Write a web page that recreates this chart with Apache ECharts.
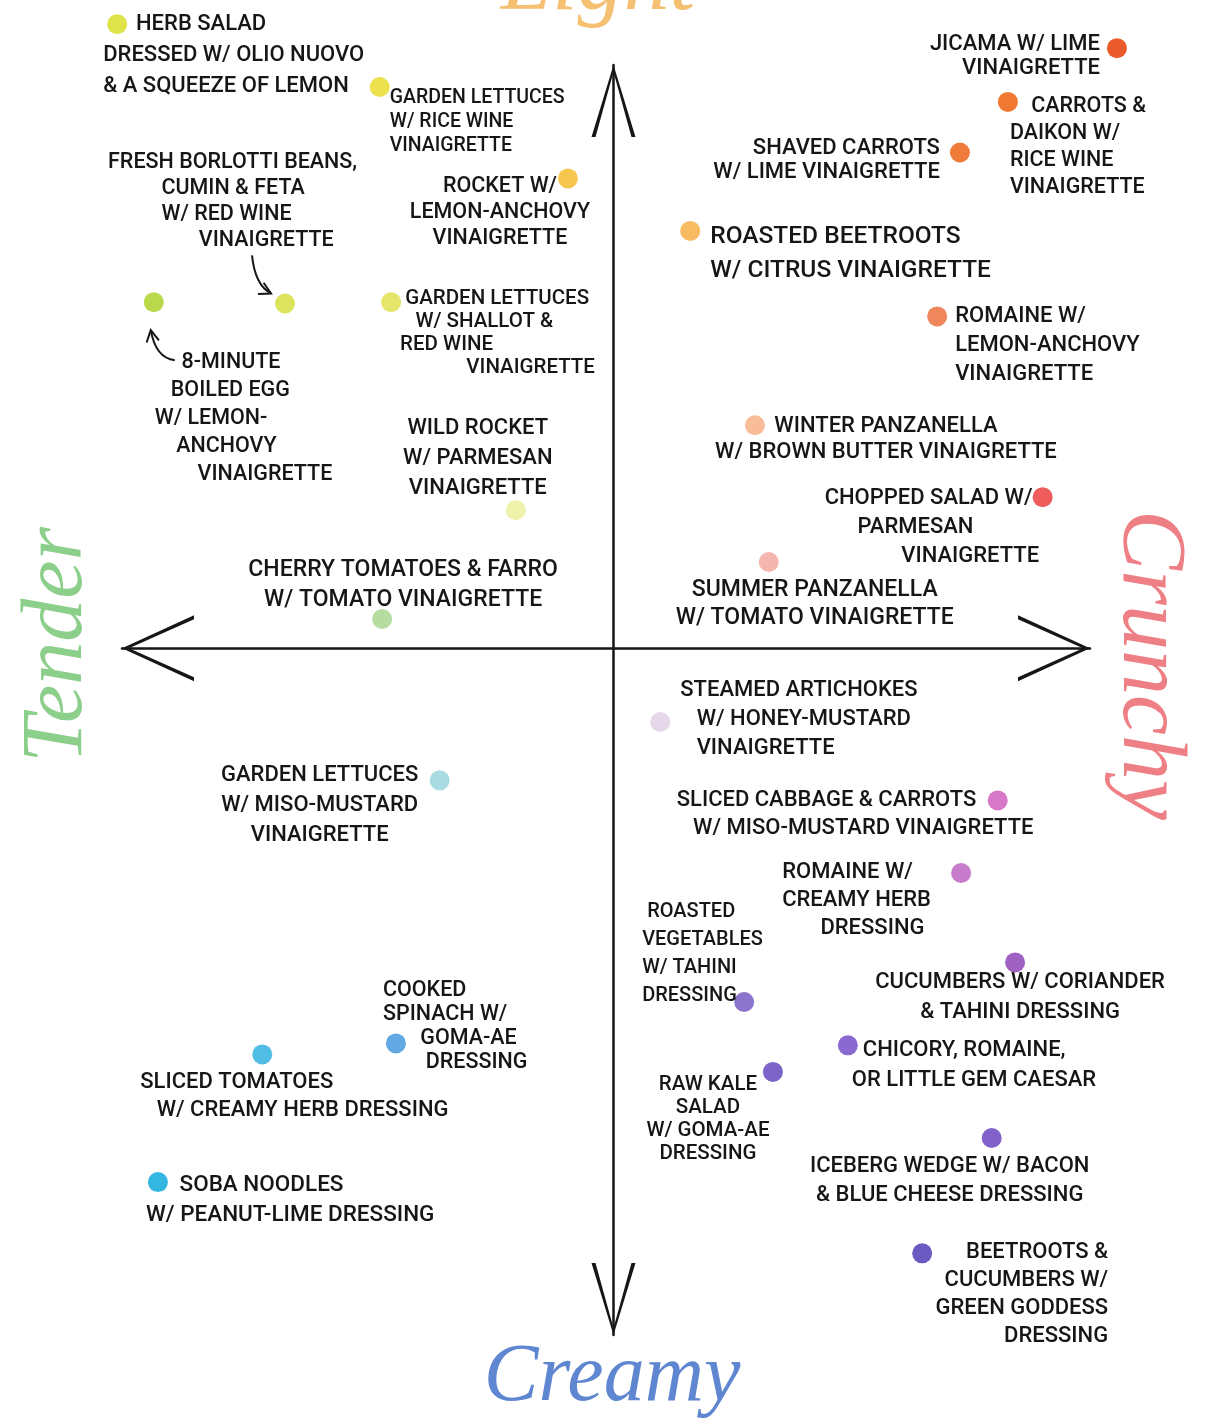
<!DOCTYPE html>
<html>
<head>
<meta charset="utf-8">
<title>Salad dressing map</title>
<script src="https://cdn.jsdelivr.net/npm/echarts@6/dist/echarts.min.js"></script>
<style>
  html, body { margin: 0; padding: 0; background: #fff; }
  #chart { width: 1206px; height: 1420px; }
</style>
</head>
<body>
<div id="chart"></div>
<script>
// salads, as written on the map (line breaks as drawn)
const salads = [
  'HERB SALAD\nDRESSED W/ OLIO NUOVO\n& A SQUEEZE OF LEMON',
  'GARDEN LETTUCES\nW/ RICE WINE\nVINAIGRETTE',
  'FRESH BORLOTTI BEANS,\nCUMIN & FETA\nW/ RED WINE\nVINAIGRETTE',
  '8-MINUTE\nBOILED EGG\nW/ LEMON-\nANCHOVY\nVINAIGRETTE',
  'ROCKET W/\nLEMON-ANCHOVY\nVINAIGRETTE',
  'GARDEN LETTUCES\nW/ SHALLOT &\nRED WINE\nVINAIGRETTE',
  'WILD ROCKET\nW/ PARMESAN\nVINAIGRETTE',
  'CHERRY TOMATOES & FARRO\nW/ TOMATO VINAIGRETTE',
  'JICAMA W/ LIME\nVINAIGRETTE',
  'CARROTS &\nDAIKON W/\nRICE WINE\nVINAIGRETTE',
  'SHAVED CARROTS\nW/ LIME VINAIGRETTE',
  'ROASTED BEETROOTS\nW/ CITRUS VINAIGRETTE',
  'ROMAINE W/\nLEMON-ANCHOVY\nVINAIGRETTE',
  'WINTER PANZANELLA\nW/ BROWN BUTTER VINAIGRETTE',
  'CHOPPED SALAD W/\nPARMESAN\nVINAIGRETTE',
  'SUMMER PANZANELLA\nW/ TOMATO VINAIGRETTE',
  'STEAMED ARTICHOKES\nW/ HONEY-MUSTARD\nVINAIGRETTE',
  'SLICED CABBAGE & CARROTS\nW/ MISO-MUSTARD VINAIGRETTE',
  'ROMAINE W/\nCREAMY HERB\nDRESSING',
  'ROASTED\nVEGETABLES\nW/ TAHINI\nDRESSING',
  'CUCUMBERS W/ CORIANDER\n& TAHINI DRESSING',
  'RAW KALE\nSALAD\nW/ GOMA-AE\nDRESSING',
  'CHICORY, ROMAINE,\nOR LITTLE GEM CAESAR',
  'ICEBERG WEDGE W/ BACON\n& BLUE CHEESE DRESSING',
  'BEETROOTS &\nCUCUMBERS W/\nGREEN GODDESS\nDRESSING',
  'GARDEN LETTUCES\nW/ MISO-MUSTARD\nVINAIGRETTE',
  'COOKED\nSPINACH W/\nGOMA-AE\nDRESSING',
  'SLICED TOMATOES\nW/ CREAMY HERB DRESSING',
  'SOBA NOODLES\nW/ PEANUT-LIME DRESSING'
]

// tender (-) .. crunchy (+)
const tenderCrunchy = [
  -8.28, -3.90, -5.48, -7.67, -0.76, -3.71, -1.63, -3.86,
  8.40, 6.58, 5.78, 1.28, 5.40, 2.36, 7.16, 2.59,
  0.78, 6.41, 5.80, 2.18, 6.70, 2.66, 3.91, 6.31, 5.15,
  -2.90, -3.63, -5.86, -7.60
]

// creamy (-) .. light (+)
const creamyLight = [
  9.63, 8.66, 5.32, 5.34, 7.25, 5.34, 2.13, 0.45,
  9.26, 8.43, 7.65, 6.44, 5.12, 3.44, 2.33, 1.33,
  -1.14, -2.35, -3.47, -5.46, -4.85, -6.54, -6.13, -7.56, -9.34,
  -2.04, -6.10, -6.27, -8.24
]

const dotColors = [
  '#dfe34a', '#ece24e', '#dce35c', '#b9d84c', '#f6c64e', '#e6e66c', '#eef2aa', '#b6dca0',
  '#ea5a2a', '#f07830', '#f07c3c', '#f8bb62', '#f0875c', '#f8bc98', '#ee5c5c', '#f6b6b0',
  '#e6d8ea', '#d878c8', '#c77ccb', '#8a74cc', '#a062c2', '#7c64c8', '#8a6ad0', '#8262ca', '#6a5ac2',
  '#a8dce2', '#62a8e2', '#52bde4', '#34b6e2'
]

// where each label sits next to its dot: dx, dy, align, lineHeight, fontSize, indent (spaces per line)
const labelLayout = [
  [-14, -15, 'left', 31, 22, [6, 0, 0]],
  [10, -1, 'left', 24, 19.5],
  [-177, -154, 'left', 26, 21.5, [0, 10, 10, 17]],
  [1, 46, 'left', 28, 21.5, [5, 3, 0, 4, 8]],
  [-68, -5, 'center', 26, 21.5],
  [9, -15, 'left', 23, 20.5, [1, 3, 0, 13]],
  [-38, -97, 'center', 30, 22],
  [21, -64, 'center', 30, 23],
  [-17, -16, 'right', 24, 22],
  [2, -9, 'left', 27, 21.5, [4, 0, 0, 0]],
  [-20, -16, 'right', 24, 22],
  [20, -11, 'left', 34, 24.5],
  [18, -14, 'left', 29, 22],
  [131, -12, 'center', 26, 22],
  [-218, -13, 'left', 29, 22, [0, 6, 14]],
  [46, 14, 'center', 28, 23],
  [20, -46, 'left', 29, 22, [0, 3, 3]],
  [-321, -14, 'left', 28, 22, [0, 3]],
  [-179, -15, 'left', 28, 22, [0, 0, 7]],
  [-102, -104, 'left', 28, 20, [1, 0, 0, 0]],
  [5, 5, 'center', 30, 22],
  [-65, 1, 'center', 23, 20.5],
  [4, -10, 'left', 30, 22, [2, 0]],
  [-42, 14, 'center', 29, 22],
  [186, -15, 'right', 28, 22],
  [-120, -20, 'center', 30, 22],
  [-13, -65, 'left', 24, 21.5, [0, 0, 7, 8]],
  [-122, 14, 'left', 28, 22, [0, 3]],
  [-12, -12, 'left', 30, 22.5, [6, 0]]
]

const ink = '#161616'
const scriptFont = '"Liberation Serif", "DejaVu Serif", serif'

// open V arrow heads (tip at top), sized to fit symbolSize exactly
const arrowX = 'path://M33,0 L66,72 L62,72 L33,7 L4,72 L0,72 Z'
const arrowY = 'path://M22,0 L44,72 L40,72 L22,7 L4,72 L0,72 Z'

function labelText(i) {
  const indent = labelLayout[i][5] || []
  return salads[i].split('\n').map((line, k) => ' '.repeat(indent[k] || 0) + line).join('\n')
}

const chart = echarts.init(document.getElementById('chart'), null, { renderer: 'canvas' })

const option = {
  animation: false,
  backgroundColor: '#ffffff',
  grid: { left: 122, right: 116, top: 65, bottom: 85, containLabel: false },
  xAxis: {
    type: 'value',
    min: -8.2,
    max: 7.95,
    splitLine: { show: false },
    axisTick: { show: false },
    axisLabel: { show: false },
    axisLine: {
      show: true,
      onZero: true,
      symbol: [arrowX, arrowX],
      symbolSize: [66, 72],
      symbolOffset: [36, -36],
      lineStyle: { color: ink, width: 2.5 }
    }
  },
  yAxis: {
    type: 'value',
    min: -10.6,
    max: 9,
    splitLine: { show: false },
    axisTick: { show: false },
    axisLabel: { show: false },
    axisLine: {
      show: true,
      onZero: true,
      symbol: [arrowY, arrowY],
      symbolSize: [44, 72],
      symbolOffset: [36, -36],
      lineStyle: { color: ink, width: 2.5 }
    }
  },
  series: [{
    type: 'scatter',
    clip: false,
    symbolSize: 20,
    emphasis: { disabled: true },
    data: salads.map((name, i) => {
      const l = labelLayout[i]
      return {
        name: name,
        value: [tenderCrunchy[i], creamyLight[i]],
        itemStyle: { color: dotColors[i], opacity: 1 },
        label: {
          show: true,
          position: 'inside',
          offset: [l[0], l[1]],
          align: l[2],
          verticalAlign: 'top',
          lineHeight: l[3],
          fontSize: l[4],
          fontFamily: 'Roboto, "DejaVu Sans", sans-serif',
          fontWeight: 500,
          color: ink,
          textBorderWidth: 0,
          formatter: () => labelText(i)
        }
      }
    })
  }],
  graphic: [
    { id: 'light', type: 'text', x: 598, y: 31, style: { text: 'Light', font: 'italic 92px ' + scriptFont, fill: '#f5c072', textAlign: 'center', textVerticalAlign: 'bottom' } },
    { id: 'tender', type: 'text', x: 58, y: 645, rotation: Math.PI / 2, style: { text: 'Tender', font: 'italic 86px ' + scriptFont, fill: '#8ccf8a', textAlign: 'center', textVerticalAlign: 'middle' } },
    { id: 'crunchy', type: 'text', x: 1148, y: 665, rotation: -Math.PI / 2, style: { text: 'Crunchy', font: 'italic 90px ' + scriptFont, fill: '#ee7f85', textAlign: 'center', textVerticalAlign: 'middle' } },
    { id: 'creamy', type: 'text', x: 612, y: 1378, style: { text: 'Creamy', font: 'italic 82px ' + scriptFont, fill: '#5f86d0', textAlign: 'center', textVerticalAlign: 'middle' } }
  ]
}

chart.setOption(option)

// little hand-drawn pointer arrows from two labels to their dots
function pointer(id, dotIndex, from, ctrl, to) {
  const p = chart.convertToPixel({ gridIndex: 0 }, [tenderCrunchy[dotIndex], creamyLight[dotIndex]])
  const s = [p[0] + from[0], p[1] + from[1]]
  const c = [p[0] + ctrl[0], p[1] + ctrl[1]]
  const e = [p[0] + to[0], p[1] + to[1]]
  const ang = Math.atan2(e[1] - c[1], e[0] - c[0])
  const head = [ang + Math.PI - 0.5, ang + Math.PI + 0.5].map(a => [e[0] + 13 * Math.cos(a), e[1] + 13 * Math.sin(a)])
  return [
    { id: id + '-line', type: 'bezierCurve', shape: { x1: s[0], y1: s[1], x2: e[0], y2: e[1], cpx1: c[0], cpy1: c[1] }, style: { stroke: ink, lineWidth: 2, fill: null } },
    { id: id + '-head', type: 'polyline', shape: { points: [head[0], e, head[1]] }, style: { stroke: ink, lineWidth: 2, fill: null } }
  ]
}

chart.setOption({
  graphic: [].concat(
    pointer('borlotti', 2, [-33, -48], [-30, -18], [-14, -10]),
    pointer('egg', 3, [21, 58], [2, 56], [-3, 28])
  )
})
</script>
</body>
</html>
